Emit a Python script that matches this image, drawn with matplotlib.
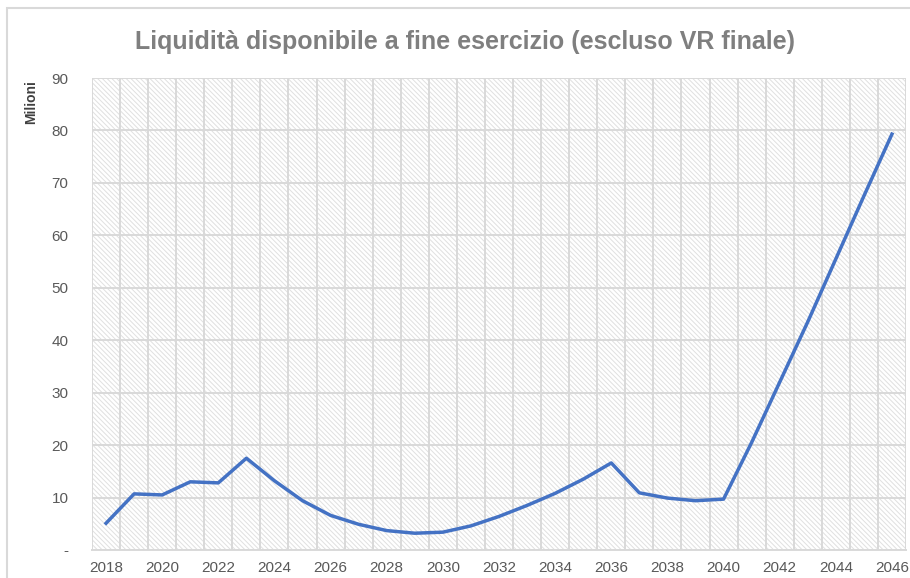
import matplotlib
matplotlib.use("Agg")
import matplotlib.pyplot as plt
from matplotlib.patches import Rectangle

plt.rcParams['font.family'] = ['Liberation Sans Narrow', 'Liberation Sans', 'DejaVu Sans']
plt.rcParams['hatch.color'] = '#e0e0e0'
plt.rcParams['hatch.linewidth'] = 0.7

# data (values in millions)
years = list(range(2018, 2047))
liquidity = [5.1, 10.7, 10.5, 13.0, 12.8, 17.5, 13.2, 9.4, 6.6, 4.9,
             3.7, 3.2, 3.4, 4.6, 6.4, 8.5, 10.8, 13.5, 16.6, 10.9,
             9.9, 9.4, 9.7, 20.5, 32.0, 43.5, 55.5, 67.5, 79.3]
y_ticks = [0, 10, 20, 30, 40, 50, 60, 70, 80, 90]
y_tick_labels = ['-', '10', '20', '30', '40', '50', '60', '70', '80', '90']

fig = plt.figure(figsize=(9.1, 5.78), dpi=100)
# outer chart border (cropped on right/bottom in the reference)
fig.patches.append(Rectangle((7 / 910, -0.1), 1.2, 1 - 8 / 578 + 0.1,
                             transform=fig.transFigure, fill=False,
                             edgecolor='#d9d9d9', linewidth=1.5))

ax = fig.add_axes([92 / 910, 28 / 578, 814 / 910, 472 / 578])
ax.patch.set_facecolor('white')
ax.add_patch(Rectangle((0, 0), 1, 1, transform=ax.transAxes, fill=False,
                       hatch='\\\\\\\\\\\\\\', edgecolor='#e0e0e0', linewidth=0, zorder=0))

x = list(range(len(years)))
ax.plot(x, liquidity, color='#4472C4', linewidth=2.5, zorder=3, solid_joinstyle='round')

ax.set_xlim(-0.5, len(years) - 0.5)
ax.set_ylim(0, 90)
ax.set_yticks(y_ticks)
ax.set_yticklabels(y_tick_labels)
ax.set_xticks(x[::2])
ax.set_xticklabels([str(y) for y in years[::2]])
ax.set_xticks([i - 0.5 for i in range(len(years) + 1)], minor=True)

ax.grid(True, axis='y', which='major', color='#d9d9d9', linewidth=1.4, zorder=1)
ax.grid(True, axis='x', which='minor', color='#d9d9d9', linewidth=1.4, zorder=1)
ax.grid(False, axis='x', which='major')
ax.set_axisbelow(True)

ax.tick_params(axis='both', which='both', length=0, labelsize=11, labelcolor='#595959')
ax.tick_params(axis='y', pad=17)
ax.tick_params(axis='x', pad=8)
for s in ['top', 'right', 'left']:
    ax.spines[s].set_visible(False)
ax.spines['bottom'].set_color('#d9d9d9')
ax.spines['bottom'].set_linewidth(1.4)

ax.set_ylabel('Milioni', fontsize=10, fontweight='bold', color='#404040')
ax.yaxis.set_label_coords(-54 / 814, 1 - 24 / 472)

fig.text(465 / 910, 1 - 42 / 578, 'Liquidità disponibile a fine esercizio (escluso VR finale)',
         ha='center', va='center', fontsize=18, fontweight='bold', color='#7f7f7f')

fig.savefig('out.png', dpi=100)
